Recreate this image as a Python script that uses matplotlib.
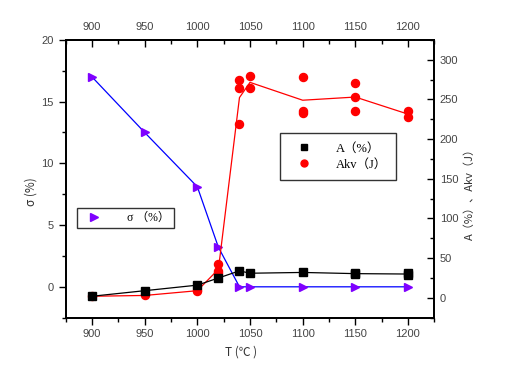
import numpy as np
import matplotlib
matplotlib.use('Agg')
import matplotlib.pyplot as plt
from matplotlib.lines import Line2D

plt.rcParams['font.family'] = ['Liberation Sans', 'Noto Sans CJK SC', 'DejaVu Sans']

# temperatures (deg C)
temps = [900, 950, 1000, 1020, 1040, 1050, 1100, 1150, 1200]

# sigma (%) - left axis
sigma = [17.0, 12.5, 8.1, 3.2, 0.0, 0.0, 0.0, 0.0, 0.0]

# A (%) - right axis, repeated measurements per temperature
a_pct = [[2], [9], [16], [25], [34], [31], [32], [30, 31], [29, 31]]

# Akv (J) - right axis, repeated measurements per temperature
akv = [[2], [3], [8, 10], [31, 34, 43], [219, 264, 274], [264, 279],
       [233, 236, 278], [235, 253, 271], [228, 235]]

fig = plt.figure(figsize=(5.07, 3.80), dpi=100)
ax = fig.add_axes([0.1296, 0.164, 0.727, 0.731])
ax2 = ax.twinx()

# sigma on left axis
ax.plot(temps, sigma, '-', color='#0000ff', lw=0.9, zorder=2)
ax.plot(temps, sigma, '>', color='#7f00ff', ms=6, ls='none', zorder=3)

# red Akv: points + line through means
for t, vals in zip(temps, akv):
    ax2.plot([t] * len(vals), vals, 'o', color='#ff0000', ms=5.8, ls='none')
ax2.plot(temps, [np.mean(v) for v in akv], '-', color='#ff0000', lw=0.9)

# black A: points + line through means
for t, vals in zip(temps, a_pct):
    ax2.plot([t] * len(vals), vals, 's', color='black', ms=5.3, ls='none')
ax2.plot(temps, [np.mean(v) for v in a_pct], '-', color='black', lw=0.9)

# limits and ticks
ax.set_xlim(875, 1225)
ax.set_ylim(-2.5, 20)
ax2.set_ylim(-25, 325)
ax.set_xticks(np.arange(900, 1201, 50))
ax.set_xticks(np.arange(875, 1226, 25), minor=True)
ax.set_yticks([0, 5, 10, 15, 20])
ax.set_yticks(np.arange(-2.5, 20.1, 2.5), minor=True)
ax2.set_yticks(np.arange(0, 301, 50))
ax2.set_yticks(np.arange(-25, 326, 25), minor=True)

top = ax.secondary_xaxis('top')
top.set_xticks(np.arange(900, 1201, 50))
top.set_xticks(np.arange(875, 1226, 25), minor=True)

for a in (ax, ax2):
    for s in a.spines.values():
        s.set_linewidth(1.3)
ax.tick_params(which='both', direction='out', labelsize=8, labelcolor='#444444', width=1.0)
ax.tick_params(which='major', length=5)
ax.tick_params(which='minor', length=3)
ax2.tick_params(which='both', direction='in', labelsize=8, labelcolor='#444444', width=1.0, pad=4)
ax2.tick_params(which='major', length=5)
ax2.tick_params(which='minor', length=3)
top.tick_params(which='both', direction='in', labelsize=8, labelcolor='#444444', width=1.0, pad=6)
top.tick_params(which='major', length=5)
top.tick_params(which='minor', length=3)
top.spines['top'].set_linewidth(1.3)

# labels
fig.text(0.062, 0.495, 'σ (%)', rotation=90, fontsize=8.5, color='#333333',
         ha='center', va='center', family=['Noto Sans CJK SC', 'DejaVu Sans'])
fig.text(0.927, 0.495, 'A（%）、Akv（J）', rotation=90, fontsize=8, color='#333333',
         ha='center', va='center', family=['Noto Sans CJK SC', 'DejaVu Sans'])
fig.text(0.475, 0.073, 'T (℃ )', fontsize=8.5, color='#333333',
         ha='center', va='center', family=['Noto Sans CJK SC', 'DejaVu Sans'])

# legends
h1 = [Line2D([], [], marker='s', color='black', ls='none', ms=5),
      Line2D([], [], marker='o', color='#ff0000', ls='none', ms=5)]
leg1 = fig.legend(h1, ['A（%）', 'Akv（J）'], loc='center', bbox_to_anchor=(0.667, 0.588),
                  frameon=True, fancybox=False, edgecolor='black', borderpad=0.75,
                  handletextpad=1.4, labelspacing=0.3, borderaxespad=0, handlelength=2.3,
                  prop={'family': ['Liberation Serif', 'Noto Sans CJK SC'], 'size': 9})
leg1.get_frame().set_linewidth(1.0)

h2 = [Line2D([], [], marker='>', color='#7f00ff', ls='none', ms=6)]
leg2 = fig.legend(h2, ['σ （%）'], loc='center', bbox_to_anchor=(0.2475, 0.427),
                  frameon=True, fancybox=False, edgecolor='black', borderpad=0.35,
                  handletextpad=1.7, borderaxespad=0, handlelength=2.2,
                  prop={'family': ['Liberation Serif', 'Noto Sans CJK SC'], 'size': 8.5})
leg2.get_frame().set_linewidth(1.0)

plt.savefig('out.png', dpi=100)
